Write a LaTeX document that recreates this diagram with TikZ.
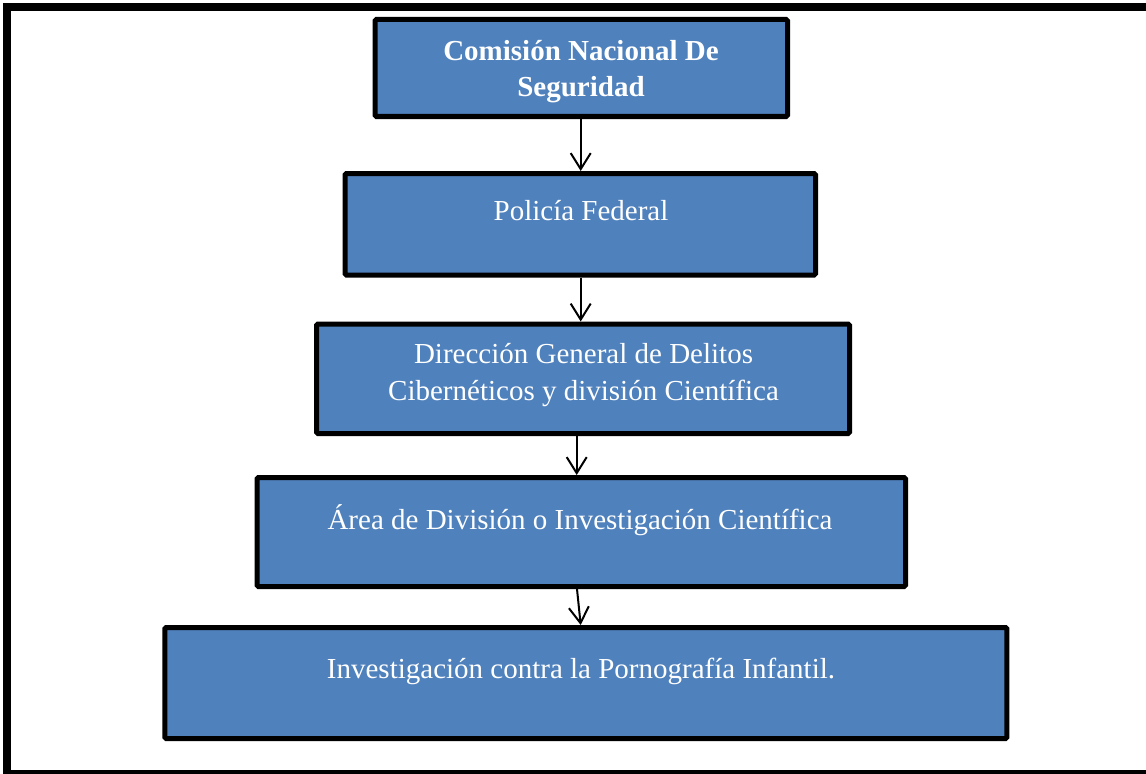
\documentclass[tikz,border=0pt]{standalone}
\usepackage{fontspec}
\setmainfont{Liberation Serif}
\usetikzlibrary{arrows.meta}
\definecolor{boxblue}{HTML}{4F81BD}
\tikzset{
  box/.style={draw=black, fill=boxblue, line width=3.75pt, rounded corners=1pt, inner sep=0pt},
  txt/.style={text=white, font=\fontsize{21.75}{27.75}\selectfont, align=center, inner sep=0pt, anchor=base},
  arr/.style={draw=black, line width=1.5pt, -{Straight Barb[length=12pt, width=15pt, line width=1.5pt]}},
}
\begin{document}
\begin{tikzpicture}[x=0.75pt, y=-0.75pt]
\useasboundingbox (0,0) rectangle (1146,774);
\fill[white] (0,0) rectangle (1146,774);
\draw[line width=6pt] (7,7) rectangle (1165,774);
\node[box, minimum width=309.375pt, minimum height=72.75pt] (b1) at (581.25,68) {};
\node[box, minimum width=352.875pt, minimum height=76.125pt] (b2) at (580.25,224.25) {};
\node[box, minimum width=399.75pt, minimum height=82.125pt] (b3) at (583,378.75) {};
\node[box, minimum width=486.375pt, minimum height=81.75pt] (b4) at (581.25,532) {};
\node[box, minimum width=631.5pt, minimum height=83.25pt] (b5) at (585.8,683) {};
\node[txt, font=\fontsize{21.75}{27.75}\selectfont\bfseries] (t1) at (581,97) {Comisión Nacional De\\Seguridad};
\node[txt] (t2) at (581,220) {Policía Federal};
\node[txt] (t3) at (583.5,400) {Dirección General de Delitos\\Cibernéticos y división Científica};
\node[txt] (t4) at (580,529) {Área de División o Investigación Científica};
\node[txt] (t5) at (581,678) {Investigación contra la Pornografía Infantil.};
\coordinate (a1) at (580.7,0);
\coordinate (a2) at (580.7,0);
\coordinate (a3) at (576.7,0);
\coordinate (a4s) at (577,0);
\coordinate (a4e) at (580.7,0);
\draw[arr] (b1.south -| a1) -- (b2.north -| a1);
\draw[arr] (b2.south -| a2) -- (b3.north -| a2);
\draw[arr] (b3.south -| a3) -- (b4.north -| a3);
\draw[arr] (b4.south -| a4s) -- (b5.north -| a4e);
\end{tikzpicture}
\end{document}
